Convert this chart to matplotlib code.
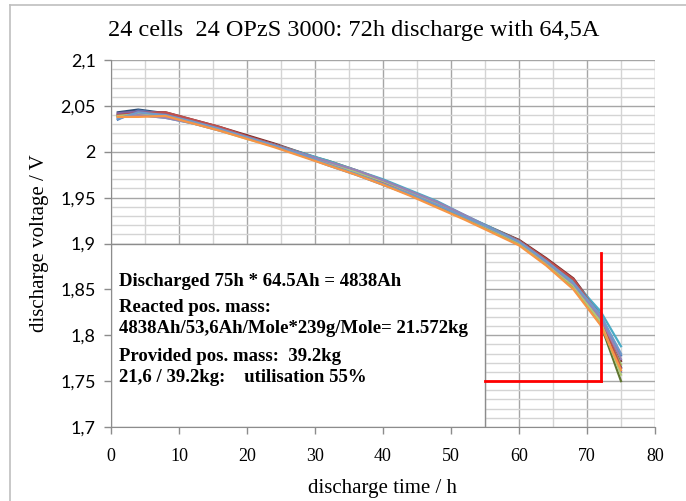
import numpy as np
import matplotlib
matplotlib.use('Agg')
import matplotlib.pyplot as plt
from matplotlib.patches import Rectangle
from matplotlib.lines import Line2D
from matplotlib.ticker import MultipleLocator, FuncFormatter

# discharge time in hours
hours = [1, 4, 8, 12, 16, 20, 24, 28, 32, 36, 40, 44, 48, 52, 56, 60, 64, 68, 72, 75]

# cell voltages (V), one list per cell
cell_01 = [2.043, 2.046, 2.042, 2.034, 2.026, 2.016, 2.007, 1.997, 1.987, 1.976, 1.965, 1.953, 1.941, 1.928, 1.915, 1.901, 1.879, 1.855, 1.816, 1.765]
cell_02 = [2.041, 2.043, 2.043, 2.035, 2.027, 2.018, 2.009, 1.999, 1.989, 1.979, 1.968, 1.956, 1.944, 1.930, 1.917, 1.904, 1.884, 1.862, 1.822, 1.772]
cell_03 = [2.038, 2.041, 2.039, 2.032, 2.024, 2.015, 2.007, 1.998, 1.990, 1.980, 1.969, 1.957, 1.944, 1.930, 1.916, 1.901, 1.878, 1.852, 1.812, 1.750]
cell_04 = [2.035, 2.045, 2.041, 2.033, 2.025, 2.015, 2.006, 1.996, 1.985, 1.975, 1.964, 1.953, 1.941, 1.928, 1.915, 1.902, 1.881, 1.858, 1.821, 1.778]
cell_05 = [2.040, 2.040, 2.037, 2.031, 2.024, 2.016, 2.008, 1.999, 1.990, 1.980, 1.970, 1.958, 1.946, 1.931, 1.917, 1.903, 1.882, 1.859, 1.826, 1.788]
cell_06 = [2.039, 2.039, 2.040, 2.032, 2.024, 2.015, 2.006, 1.996, 1.986, 1.976, 1.965, 1.953, 1.940, 1.927, 1.913, 1.899, 1.877, 1.851, 1.813, 1.768]
cell_07 = [2.042, 2.044, 2.042, 2.034, 2.025, 2.016, 2.007, 1.997, 1.987, 1.977, 1.966, 1.954, 1.942, 1.929, 1.915, 1.902, 1.880, 1.855, 1.817, 1.760]
cell_08 = [2.040, 2.042, 2.043, 2.035, 2.027, 2.017, 2.008, 1.998, 1.988, 1.978, 1.967, 1.955, 1.943, 1.929, 1.916, 1.903, 1.883, 1.861, 1.820, 1.764]
cell_09 = [2.039, 2.041, 2.038, 2.031, 2.023, 2.014, 2.006, 1.997, 1.988, 1.978, 1.968, 1.956, 1.943, 1.929, 1.915, 1.901, 1.879, 1.854, 1.815, 1.757]
cell_10 = [2.037, 2.040, 2.037, 2.031, 2.023, 2.015, 2.007, 1.998, 1.989, 1.980, 1.969, 1.957, 1.945, 1.931, 1.916, 1.902, 1.880, 1.856, 1.819, 1.774]
cell_11 = [2.036, 2.043, 2.040, 2.033, 2.025, 2.016, 2.007, 1.997, 1.986, 1.976, 1.965, 1.954, 1.942, 1.929, 1.916, 1.902, 1.881, 1.857, 1.822, 1.780]
cell_12 = [2.038, 2.038, 2.039, 2.031, 2.023, 2.014, 2.005, 1.995, 1.985, 1.975, 1.964, 1.952, 1.939, 1.926, 1.912, 1.898, 1.876, 1.850, 1.811, 1.762]

cells = [cell_01, cell_02, cell_03, cell_04, cell_05, cell_06,
         cell_07, cell_08, cell_09, cell_10, cell_11, cell_12]
colors = ['#2C4D75', '#772C2A', '#5F7530', '#4F81BD', '#4BACC6', '#9BBB59',
          '#8064A2', '#C0504D', '#AFC97A', '#9983B5', '#729ACA', '#F79646']

# end of discharge markers
end_time = 72
end_voltage = 1.75
marker_top = 1.89
box_x = [0, 55]
box_y = [1.7, 1.9]

notes = [
    (1.8582, 'Discharged 75h * 64.5Ah = 4838Ah'),
    (1.8298, 'Reacted pos. mass:'),
    (1.8070, '4838Ah/53,6Ah/Mole*239g/Mole= 21.572kg'),
    (1.7765, 'Provided pos. mass:  39.2kg'),
    (1.7536, '21,6 / 39.2kg:    utilisation 55%'),
]

serif = 'Liberation Serif'

fig = plt.figure(figsize=(6.86, 5.01), dpi=100)
ax = fig.add_axes([0.1618, 0.1477, 0.793, 0.7325])

ax.set_xlim(0, 80)
ax.set_ylim(1.7, 2.1)
ax.xaxis.set_major_locator(MultipleLocator(10))
ax.xaxis.set_minor_locator(MultipleLocator(5))
ax.yaxis.set_major_locator(MultipleLocator(0.05))
ax.yaxis.set_minor_locator(MultipleLocator(0.01))
ax.grid(which='major', color='#a6a6a6', linewidth=1.0, zorder=0)
ax.grid(which='minor', color='#d4d4d4', linewidth=1.0, zorder=0)
ax.set_axisbelow(True)
ax.tick_params(which='minor', length=0)
ax.tick_params(which='major', direction='out', length=5, color='#8c8c8c', width=1)
for s in ['top', 'right']:
    ax.spines[s].set_visible(False)
for s in ['left', 'bottom']:
    ax.spines[s].set_color('#8c8c8c')

ax.yaxis.set_major_formatter(FuncFormatter(lambda v, p: ('%g' % round(v, 2)).replace('.', ',')))
for lab in ax.get_yticklabels():
    lab.set_family('Lato')
    lab.set_fontsize(13)
for lab in ax.get_xticklabels():
    lab.set_family(serif)
    lab.set_fontsize(13)
ax.tick_params(axis='y', pad=6)
ax.tick_params(axis='x', pad=10)

for v, c in zip(cells, colors):
    ax.plot(hours, v, color=c, linewidth=1.6, zorder=3)

ax.add_patch(Rectangle((box_x[0], box_y[0]), box_x[1] - box_x[0], box_y[1] - box_y[0],
                       facecolor='white', edgecolor='#8c8c8c', linewidth=1.0, zorder=2))

ax.plot([box_x[1], end_time], [end_voltage, end_voltage], color='red', linewidth=2, zorder=4)
ax.plot([end_time, end_time], [end_voltage, marker_top], color='red', linewidth=2, zorder=4)

for y, t in notes:
    ax.text(1.2, y, t, family=serif, fontsize=13.5, fontweight='bold', va='center', ha='left', zorder=5)

ax.set_xlabel('discharge time / h', family=serif, fontsize=15, labelpad=10)
ax.set_ylabel('discharge voltage / V', family=serif, fontsize=15, labelpad=8)

fig.text(0.515, 0.94, '24 cells  24 OPzS 3000: 72h discharge with 64,5A', family=serif,
         fontsize=17.5, ha='center', va='center')

# outer chart frame
fig.add_artist(Line2D([10 / 686, 1], [1 - 5 / 501, 1 - 5 / 501], color='#bfbfbf', linewidth=1.2))
fig.add_artist(Line2D([10 / 686, 10 / 686], [0, 1 - 5 / 501], color='#bfbfbf', linewidth=1.2))

fig.savefig('out.png', dpi=100)
